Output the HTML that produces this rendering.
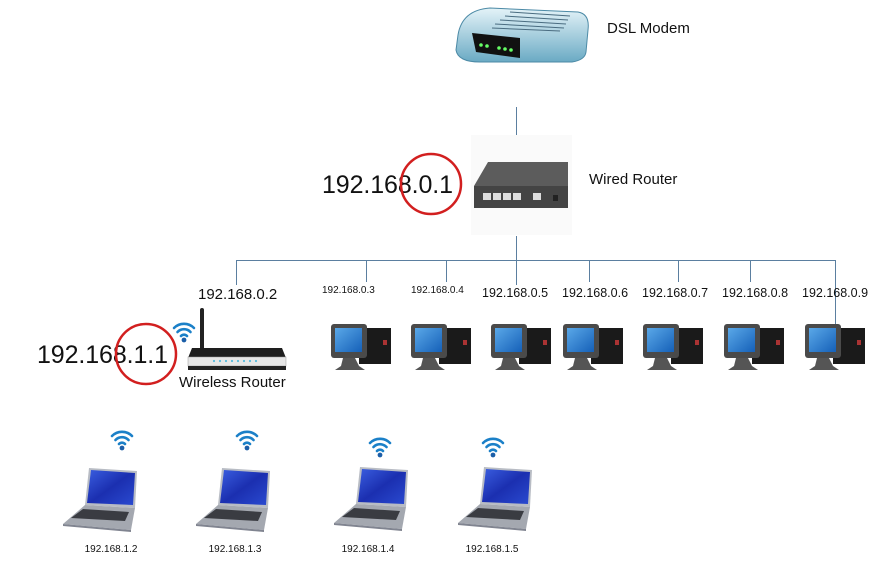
<!DOCTYPE html>
<html><head><meta charset="utf-8"><style>
html,body{margin:0;padding:0;background:#fff;}
svg{display:block;font-family:"Liberation Sans",Calibri,sans-serif;}
</style></head><body>
<svg width="883" height="569" viewBox="0 0 883 569" xmlns="http://www.w3.org/2000/svg">
<defs>
<linearGradient id="scr" x1="0" y1="0" x2="1" y2="1"><stop offset="0" stop-color="#5aa8e8"/><stop offset="1" stop-color="#1560b8"/></linearGradient>
<linearGradient id="lscr" x1="0" y1="0" x2="1" y2="1"><stop offset="0" stop-color="#3a5ee0"/><stop offset="0.5" stop-color="#1b2fb0"/><stop offset="1" stop-color="#2a4ad0"/></linearGradient>
<linearGradient id="modem" x1="0" y1="0" x2="0" y2="1"><stop offset="0" stop-color="#e4f3f8"/><stop offset="1" stop-color="#6aaac4"/></linearGradient>
<g id="pc">
  <rect x="28" y="8" width="32" height="36" fill="#1a1a1a"/>
  <rect x="52" y="20" width="4" height="5" fill="#a33"/>
  <path d="M12 38 L24 38 L28 46 L34 50 L4 50 L10 46Z" fill="#555"/>
  <rect x="0" y="4" width="36" height="34" rx="3" fill="#4a4a4a"/>
  <rect x="4" y="8" width="27" height="24" fill="url(#scr)"/>
</g>
<g id="lap">
  <path d="M0 0 L48 3 L46 40 L-4 37Z" fill="#b8bcc4"/>
  <path d="M2 2 L46 5 L44 37 L-2 35Z" fill="url(#lscr)"/>
  <path d="M-4 37 L46 40 L42 62 L-26 56Z" fill="#a4a8b0"/>
  <path d="M-6 41 L40 44 L36 53 L-18 50Z" fill="#3a3c42"/>
  <path d="M-26 56 L42 62 L42 64 L-26 58Z" fill="#808490"/>
</g>
<g id="wifi" fill="none" stroke="#1b80c8" stroke-width="2.6" stroke-linecap="round">
  <path d="M-10 -4 A14 14 0 0 1 10 -4"/>
  <path d="M-6.5 0 A9 9 0 0 1 6.5 0"/>
  <path d="M-3 4 A4 4 0 0 1 3 4"/>
  <circle cx="0" cy="8" r="2.4" fill="#1b5ea8" stroke="none"/>
</g>
</defs>

<g stroke="#5b7fa0" stroke-width="1" fill="none">
  <line x1="516.5" y1="107" x2="516.5" y2="135"/>
  <line x1="516.5" y1="236" x2="516.5" y2="285"/>
  <line x1="236" y1="260.5" x2="835" y2="260.5"/>
  <line x1="236.5" y1="260" x2="236.5" y2="285"/>
  <line x1="366.5" y1="260" x2="366.5" y2="282"/>
  <line x1="446.5" y1="260" x2="446.5" y2="282"/>
  <line x1="589.5" y1="260" x2="589.5" y2="282"/>
  <line x1="678.5" y1="260" x2="678.5" y2="282"/>
  <line x1="750.5" y1="260" x2="750.5" y2="282"/>
  <line x1="835.5" y1="260" x2="835.5" y2="327"/>
</g>

<!-- DSL modem -->
<g>
  <path d="M458 35 Q462 10 490 8 L578 12 Q590 14 588 30 L586 52 Q585 60 572 62 L480 62 Q458 62 456 50Z" fill="url(#modem)" stroke="#4c8aa6"/>
  <g stroke="#4a6c80" stroke-width="1"><line x1="510" y1="12" x2="570" y2="16"/><line x1="505" y1="16" x2="568" y2="20"/><line x1="500" y1="20" x2="566" y2="24"/><line x1="495" y1="24" x2="564" y2="28"/><line x1="492" y1="28" x2="560" y2="31"/></g>
  <path d="M472 33 L520 38 L520 58 L476 52Z" fill="#111"/>
  <g fill="#6f6"><circle cx="481" cy="45" r="1.8"/><circle cx="487" cy="46" r="1.8"/><circle cx="499" cy="48" r="1.8"/><circle cx="505" cy="49" r="1.8"/><circle cx="511" cy="50" r="1.8"/></g>
</g>
<text x="607" y="33" font-size="15" fill="#111">DSL Modem</text>

<!-- wired router -->
<rect x="471" y="135" width="101" height="100" fill="#fafafa"/>
<path d="M488 162 L568 162 L568 186 L474 186Z" fill="#5c5c5c"/>
<rect x="474" y="186" width="94" height="22" fill="#444"/>
<g fill="#ddd"><rect x="483" y="193" width="8" height="7"/><rect x="493" y="193" width="8" height="7"/><rect x="503" y="193" width="8" height="7"/><rect x="513" y="193" width="8" height="7"/><rect x="533" y="193" width="8" height="7"/><rect x="553" y="195" width="5" height="6" fill="#222"/></g>
<text x="589" y="184" font-size="15" fill="#111">Wired Router</text>
<text x="322" y="193" font-size="25" fill="#111" textLength="131">192.168.0.1</text>
<circle cx="431" cy="184" r="30" fill="none" stroke="#d21f1f" stroke-width="2.5"/>

<!-- wireless router -->
<rect x="200" y="308" width="4" height="42" rx="2" fill="#222"/>
<path d="M192 348 L282 348 L286 358 L188 358Z" fill="#1e1e1e"/>
<rect x="188" y="357" width="98" height="9" fill="#e6e6e6" stroke="#999" stroke-width="0.5"/>
<rect x="188" y="366" width="98" height="4" fill="#222"/>
<g fill="#5bd"><circle cx="214" cy="361" r="1.1"/><circle cx="220" cy="361" r="1.1"/><circle cx="226" cy="361" r="1.1"/><circle cx="232" cy="361" r="1.1"/><circle cx="238" cy="361" r="1.1"/><circle cx="244" cy="361" r="1.1"/><circle cx="250" cy="361" r="1.1"/><circle cx="256" cy="361" r="1.1"/></g>
<use href="#wifi" transform="translate(184,332)"/>
<text x="198" y="299" font-size="15" fill="#111">192.168.0.2</text>
<text x="37" y="363" font-size="25" fill="#111" textLength="131">192.168.1.1</text>
<circle cx="146" cy="354" r="30" fill="none" stroke="#d21f1f" stroke-width="2.5"/>
<text x="179" y="387" font-size="15" fill="#111">Wireless Router</text>

<g font-size="10" fill="#111">
  <text x="322" y="293">192.168.0.3</text>
  <text x="411" y="293">192.168.0.4</text>
</g>
<g font-size="12.5" fill="#111">
  <text x="482" y="297">192.168.0.5</text>
  <text x="562" y="297">192.168.0.6</text>
  <text x="642" y="297">192.168.0.7</text>
  <text x="722" y="297">192.168.0.8</text>
  <text x="802" y="297">192.168.0.9</text>
</g>

<use href="#pc" transform="translate(331,320)"/>
<use href="#pc" transform="translate(411,320)"/>
<use href="#pc" transform="translate(491,320)"/>
<use href="#pc" transform="translate(563,320)"/>
<use href="#pc" transform="translate(643,320)"/>
<use href="#pc" transform="translate(724,320)"/>
<use href="#pc" transform="translate(805,320)"/>

<use href="#lap" transform="translate(89,468)"/>
<use href="#lap" transform="translate(222,468)"/>
<use href="#lap" transform="translate(360,467)"/>
<use href="#lap" transform="translate(484,467)"/>
<use href="#wifi" transform="translate(122,440)"/>
<use href="#wifi" transform="translate(247,440)"/>
<use href="#wifi" transform="translate(380,447)"/>
<use href="#wifi" transform="translate(493,447)"/>
<g font-size="10" fill="#111" text-anchor="middle">
  <text x="111" y="552">192.168.1.2</text>
  <text x="235" y="552">192.168.1.3</text>
  <text x="368" y="552">192.168.1.4</text>
  <text x="492" y="552">192.168.1.5</text>
</g>
</svg>
</body></html>
